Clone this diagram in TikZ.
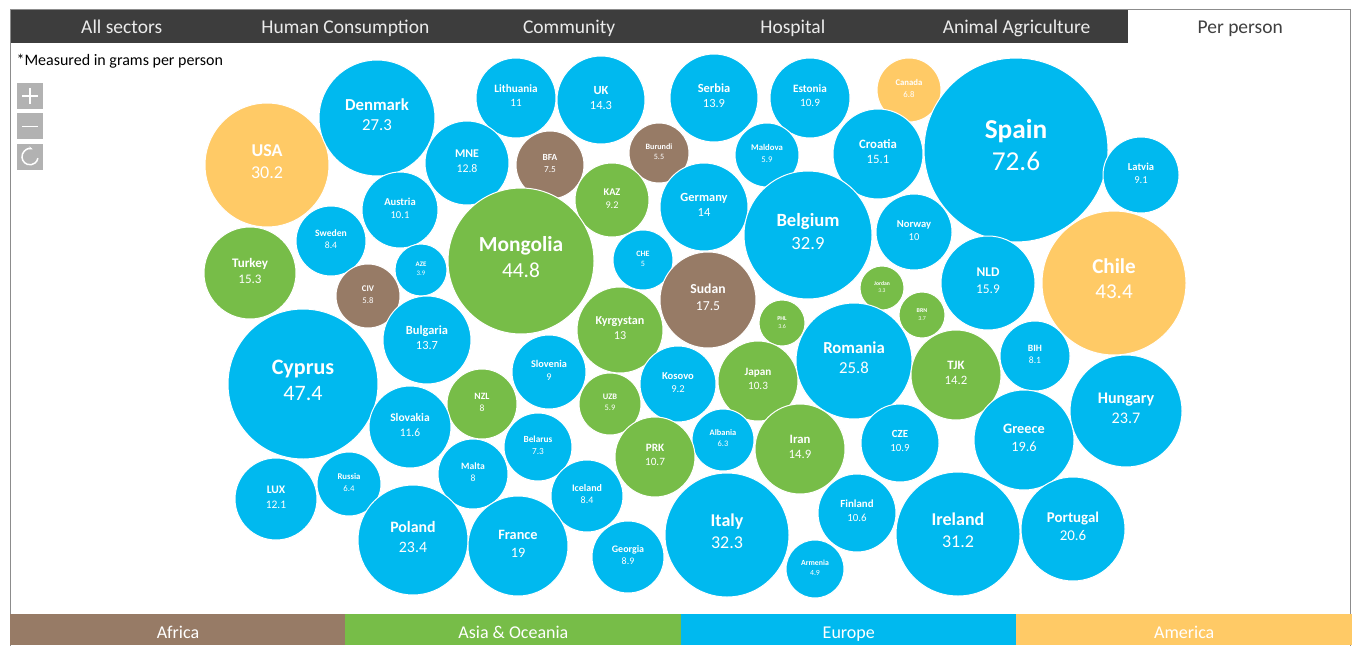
\documentclass[tikz,border=0pt]{standalone}
\usepackage{fontspec}
\setmainfont{Carlito}
\usetikzlibrary{positioning,arrows.meta}
\definecolor{africa}{HTML}{977B66}
\definecolor{asia}{HTML}{77BD48}
\definecolor{europe}{HTML}{00B9EF}
\definecolor{america}{HTML}{FFCA66}
\definecolor{tabbar}{HTML}{3D3D3D}

\begin{document}
\begin{tikzpicture}
    [x=1pt,y=-1pt,
     bub/.style={circle,draw=white,line width=1pt,inner sep=0pt},
     tab/.style={rectangle,text=black!8,minimum width=223.3pt,text height=13pt,text depth=4pt,inner sep=0pt,font=\fontsize{19.5}{19.5}\selectfont},
     key/.style={rectangle,minimum width=336pt,minimum height=31pt,text height=22pt,text depth=4pt,inner sep=0pt,text=white,font=\fontsize{18}{18}\selectfont},
     zoombtn/.style={rectangle,fill=black!30,minimum size=26pt,inner sep=0pt}]
    \useasboundingbox[fill=white] (0,0) rectangle (1354,645);

    % tabs
    \fill[tabbar] (10,9) rectangle (1128,43);
    \node[tab] (all) at (121.7,29) {All sectors};
    \node[tab,right=0pt of all] (human) {Human Consumption};
    \node[tab,right=0pt of human] (community) {Community};
    \node[tab,right=0pt of community] (hospital) {Hospital};
    \node[tab,right=0pt of hospital] (animal) {Animal Agriculture};
    \node[tab,right=0pt of animal,text=black!75] (perperson) {Per person};
    \draw[black!45] (10,9) rectangle (1350,646);

    \node[anchor=west,font=\fontsize{16}{16}\selectfont] (note) at (13,61) {*Measured in grams per person};

    % zoom buttons
    \node[zoombtn] (zin) at (30,96) {};
    \node[zoombtn,below=4pt of zin] (zout) {};
    \node[zoombtn,below=4pt of zout] (reset) {};
    \draw[white,line width=1.5pt] ([xshift=-8pt]zin.center) -- ([xshift=8pt]zin.center)
      ([yshift=-8pt]zin.center) -- ([yshift=8pt]zin.center);
    \draw[white,line width=1.5pt] ([xshift=-8pt]zout.center) -- ([xshift=8pt]zout.center);
    \draw[white,line width=1.5pt,{Stealth[length=4pt]}-] (reset.center) ++(70:8pt) arc[start angle=70,end angle=350,radius=8pt];

    % bubbles
    \foreach \cx/\cy/\rad/\col/\ctry/\val in {
      267/165/62/america/USA/30.2, 377/118/58/europe/Denmark/27.3,
      516/98/40/europe/Lithuania/11, 601/100/44/europe/UK/14.3,
      714/98/44/europe/Serbia/13.9, 810/98/40/europe/Estonia/10.9,
      909/90/32/america/Canada/6.8, 1016/150/92/europe/Spain/72.6,
      1141/175/38/europe/Latvia/9.1, 467/163/42/europe/MNE/12.8,
      550/165/34/africa/BFA/7.5, 659/153/30/africa/Burundi/5.5,
      767/155/32/europe/Maldova/5.9, 878/154/45/europe/Croatia/15.1,
      400/210/38/europe/Austria/10.1, 612/200/37/asia/KAZ/9.2,
      704/207/44/europe/Germany/14, 808/235/64/europe/Belgium/32.9,
      914/232/38/europe/Norway/10, 331/241/35/europe/Sweden/8.4,
      250/273/46/asia/Turkey/15.3, 421/270/26/europe/AZE/3.9,
      521/261/73/asia/Mongolia/44.8, 643/260/30/europe/CHE/5,
      708/300/48/africa/Sudan/17.5, 882/288/22/asia/Jordan/3.3,
      922/315/23/asia/BRN/3.7, 988/283/47/europe/NLD/15.9,
      1114/283/72/america/Chile/43.4, 368/296/32/africa/CIV/5.8,
      782/323/23/asia/PHL/3.6, 620/330/43/asia/Kyrgystan/13,
      427/340/44/europe/Bulgaria/13.7, 303/384/75/europe/Cyprus/47.4,
      854/361/58/europe/Romania/25.8, 956/375/45/asia/TJK/14.2,
      1035/356/35/europe/BIH/8.1, 549/372/37/europe/Slovenia/9,
      678/384/38/europe/Kosovo/9.2, 758/381/40/asia/Japan/10.3,
      610/404/31/asia/UZB/5.9, 482/404/35/asia/NZL/8,
      1126/411/56/europe/Hungary/23.7, 410/427/41/europe/Slovakia/11.6,
      538/447/34/europe/Belarus/7.3, 723/440/31/europe/Albania/6.3,
      655/457/40/asia/PRK/10.7, 800/449/45/asia/Iran/14.9,
      900/443/39/europe/CZE/10.9, 1024/440/50/europe/Greece/19.6,
      349/484/32/europe/Russia/6.4, 473/474/35/europe/Malta/8,
      587/496/36/europe/Iceland/8.4, 276/499/41/europe/LUX/12.1,
      857/513/39/europe/Finland/10.6, 958/534/62/europe/Ireland/31.2,
      1073/529/52/europe/Portugal/20.6, 413/540/55/europe/Poland/23.4,
      518/546/50/europe/France/19, 628/557/36/europe/Georgia/8.9,
      727/535/62/europe/Italy/32.3, 815/569/29/europe/Armenia/4.9}
    {
      \pgfmathsetmacro{\fs}{0.31*\rad-1.2}
      \node[bub,fill=\col,minimum size=2*\rad] (\ctry) at (\cx,\cy) {};
      \node[text=white,anchor=base,inner sep=0pt,font=\fontsize{\fs}{\fs}\selectfont\bfseries]
        (\ctry-name) at (\cx,{\cy-0.13*\rad}) {\ctry};
      \node[text=white,anchor=base,inner sep=0pt,font=\fontsize{\fs}{\fs}\selectfont]
        (\ctry-val) at (\cx,{\cy+0.22*\rad}) {\val};
    }

    % legend
    \node[key,fill=africa] (kafrica) at (178,629.5) {Africa};
    \node[key,fill=asia,right=-1pt of kafrica] (kasia) {Asia \& Oceania};
    \node[key,fill=europe,right=-1pt of kasia] (keurope) {Europe};
    \node[key,fill=america,right=-1pt of keurope] (kamerica) {America};
\end{tikzpicture}
\end{document}
